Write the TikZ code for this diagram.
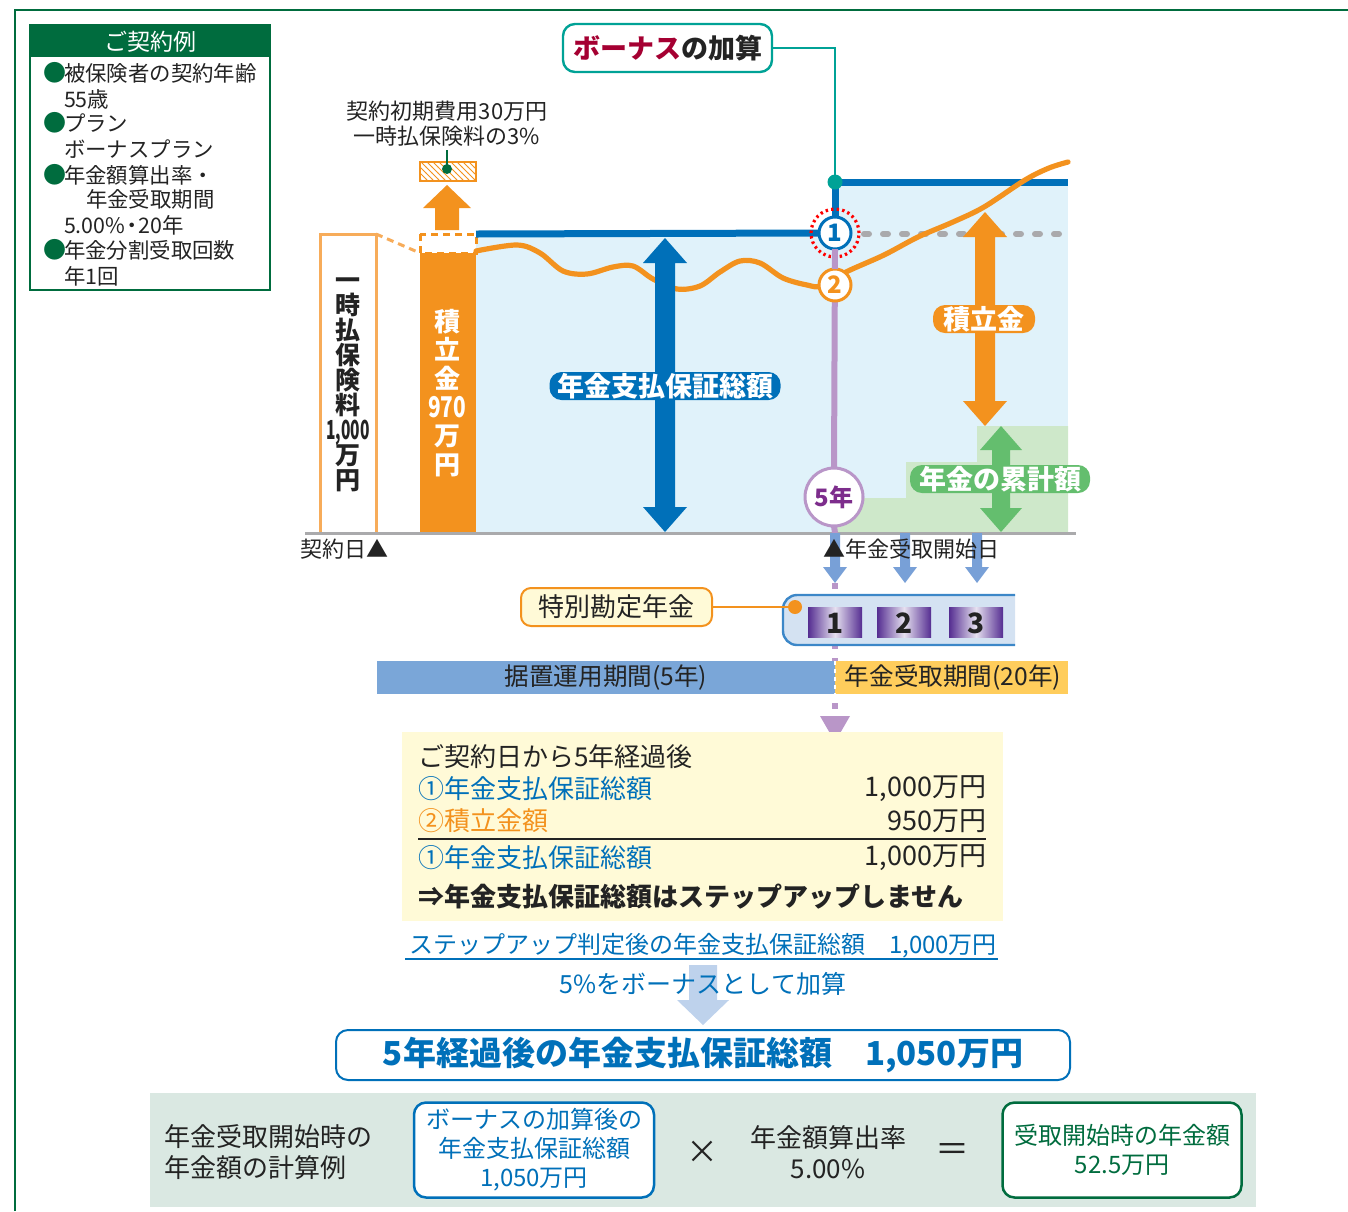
\documentclass[tikz,border=0pt]{standalone}
\usepackage{fontspec}
\usepackage{graphicx}
\setmainfont{Noto Sans CJK JP}
\usetikzlibrary{patterns}
\definecolor{cframe}{RGB}{0,108,62}
\definecolor{cblue}{RGB}{0,112,185}
\definecolor{clblue}{RGB}{224,242,250}
\definecolor{corange}{RGB}{243,146,30}
\definecolor{clorange}{RGB}{247,172,90}
\definecolor{cteal}{RGB}{0,162,150}
\definecolor{cbred}{RGB}{165,0,50}
\definecolor{cplight}{RGB}{185,150,200}
\definecolor{cpdark}{RGB}{125,45,140}
\definecolor{clgreen}{RGB}{206,232,202}
\definecolor{cgreen}{RGB}{100,190,110}
\definecolor{carrow}{RGB}{120,160,215}
\definecolor{ccontfill}{RGB}{212,226,242}
\definecolor{ccontline}{RGB}{60,135,200}
\definecolor{cpdeep}{RGB}{85,45,145}
\definecolor{cpwhite}{RGB}{230,225,240}
\definecolor{cbarblue}{RGB}{122,166,216}
\definecolor{cbaryel}{RGB}{255,205,92}
\definecolor{clyellow}{RGB}{255,250,215}
\definecolor{cpale}{RGB}{190,210,236}
\definecolor{cpanel}{RGB}{218,232,226}
\definecolor{cgray}{RGB}{170,170,172}
\definecolor{ctext}{RGB}{35,35,35}
\newcommand\jfs[1]{\fontsize{#1}{#1}\selectfont}
\newcommand\jfsb[2]{\fontsize{#1}{#2}\selectfont\lineskiplimit=-20pt}
\begin{document}
\begin{tikzpicture}[x=0.5pt,y=-0.5pt,
  every node/.style={inner sep=0pt,outer sep=0pt,text=ctext},
  extxt/.style={anchor=west,font=\jfs{10.7}},
  exbul/.style={anchor=west,font=\jfs{11.5},text=cframe},
  chartlbl/.style={rounded corners=6pt,text=white,font=\bfseries\jfs{13.5},minimum height=14pt},
  yb/.style={anchor=west,font=\jfs{13}},
  ybr/.style={anchor=east,font=\jfs{13.5}},
  numbox/.style={font=\bfseries\jfs{14},text=ctext},
  downarrow/.style={fill=carrow},
  circ/.style={circle,fill=white,line width=1.5pt,minimum size=16pt,font=\bfseries\jfs{12}}
]
\useasboundingbox (0,0) rectangle (1348,1211);
% outer frame
\draw[cframe,line width=0.8pt] (15,1211) -- (15,10) -- (1348,10);

% example box
\fill[cframe] (30,25) rectangle (270,57);
\draw[cframe,line width=0.8pt] (30,25) rectangle (270,290);
\node[text=white,font=\jfs{11.5}] (exhead) at (150,42) {ご契約例};
\node[exbul] (b1) at (43,73) {●};
\node[extxt] (e1) at (64,73) {被保険者の契約年齢};
\node[extxt] (e2) at (64,99) {55歳};
\node[exbul] (b2) at (43,123) {●};
\node[extxt] (e3) at (64,123) {プラン};
\node[extxt] (e4) at (64,149) {ボーナスプラン};
\node[exbul] (b3) at (43,175) {●};
\node[extxt] (e5) at (64,175) {年金額算出率・};
\node[extxt] (e6) at (86,199) {年金受取期間};
\node[extxt] (e7) at (64,225) {5.00\%{\fontsize{10.7}{10.7}\selectfont\hspace{-2pt}・\hspace{-2pt}}20年};
\node[exbul] (b4) at (43,250) {●};
\node[extxt] (e8) at (64,250) {年金分割受取回数};
\node[extxt] (e9) at (64,276) {年1回};

% chart areas
\fill[clblue] (476,234) rectangle (835,533);
\fill[clblue] (835,179) rectangle (1068,533);
\fill[clgreen] (835,533) -- (835,498) -- (906,498) -- (906,462) -- (977,462) -- (977,426) -- (1068,426) -- (1068,533) -- cycle;

% left premium box
\draw[clorange,line width=1.5pt,fill=white] (320,234) rectangle (376,533);
\node[align=center,font={\bfseries\jfsb{12.5}{12.5}}] (premium) at (348,385)
  {一\\時\\払\\保\\険\\料\\\scalebox{0.62}[1.05]{1,000}\\万\\円};
% orange bar
\fill[corange] (420,253) rectangle (476,533);
\node[align=center,text=white,font={\bfseries\jfsb{13}{14.3}}] (reserve) at (447,393)
  {\color{white}積\\\color{white}立\\\color{white}金\\\color{white}\scalebox{0.8}[1.1]{970}\\\color{white}万\\\color{white}円};
\draw[corange,line width=1.5pt,dash pattern=on 3.5pt off 2.5pt] (420,234) rectangle (476,253);
\draw[clorange,line width=1.5pt,dash pattern=on 3.5pt off 2.5pt] (376,234) -- (420,253);
% up arrow
\fill[corange] (435,230) -- (435,208) -- (423,208) -- (447,185) -- (471,208) -- (459,208) -- (459,230) -- cycle;
\draw[corange,line width=0.8pt,pattern=north west lines,pattern color=corange] (420,162) rectangle (476,181);
\node[font=\jfs{11}] (fee1) at (447,111) {契約初期費用30万円};
\node[font=\jfs{11}] (fee2) at (447,136) {一時払保険料の3\%};
\node[circle,fill=cframe,minimum size=5pt] (feedot) at (447,169) {};
\draw[cframe,line width=0.8pt] (447,150) -- (feedot.center);

% baseline
\draw[cgray,line width=1.5pt] (305,533) -- (1076,533);

% blue guarantee lines
\node[circ,draw=cblue,text=cblue] (c1) at (835,233) {1};
\draw[cblue,line width=3.5pt] (476,234) -- (c1.west);
\draw[cblue,line width=3.5pt] (c1.north) -- (835,182) -- (1068,182);
\draw[cgray,line width=3pt,line cap=round,dash pattern=on 2.5pt off 7pt] (864,234) -- (1068,234);

% purple vertical
\node[circle,fill=white,draw=cplight,line width=1.5pt,minimum size=29pt,font=\bfseries\jfs{12},text=cpdark] (y5) at (834,497) {5年};
\draw[cplight,line width=3pt] (c1.south) -- (y5.north);
\draw[cplight,line width=3pt] (y5.south) -- (835,533);

% orange curve
\draw[corange,line width=2.6pt,line cap=round] plot[smooth,tension=0.55] coordinates
 {(476,251) (517,245) (540,253) (563,271) (587,274) (613,267) (633,266) (653,279) (677,289) (700,286) (720,272) (740,261) (760,263) (783,278) (807,285) (822,286) (846,272) (884,255) (918,237) (953,222) (984,207) (1025,180) (1049,168) (1068,162)};

% teal bonus connector
\node[draw=cteal,line width=1.2pt,rounded corners=6pt,fill=white,minimum width=104.5pt,minimum height=24pt,font=\bfseries\jfs{13.5}] (bonus) at (667.5,48) {\textcolor{cbred}{ボーナス}の加算};
\node[circle,fill=cteal,minimum size=7.5pt] (tealdot) at (835,182) {};
\draw[cteal,line width=1.2pt] (bonus.east) -- (835,48) -- (tealdot.center);

% block arrows
\fill[cblue] (655,263) -- (643,263) -- (665,238) -- (687,263) -- (675,263) -- (675,507) -- (687,507) -- (665,532) -- (643,507) -- (655,507) -- cycle;
\fill[corange] (975,237) -- (963,237) -- (985,212) -- (1007,237) -- (995,237) -- (995,401) -- (1007,401) -- (985,426) -- (963,401) -- (975,401) -- cycle;
\fill[cgreen] (992,450) -- (980,450) -- (1001,426) -- (1022,450) -- (1010,450) -- (1010,508) -- (1022,508) -- (1001,532) -- (980,508) -- (992,508) -- cycle;

% chart labels
\node[chartlbl,fill=cblue,minimum width=115.5pt] (lblguar) at (665,386) {\color{white}年金支払保証総額};
\node[chartlbl,fill=corange,minimum width=51pt] (lblres) at (984,319) {\color{white}積立金};
\node[chartlbl,fill=cgreen,minimum width=90pt] (lblsum) at (1000,479) {\color{white}年金の累計額};

% circles
\node[circle,draw=red,line width=1.6pt,dash pattern=on 1.2pt off 1.6pt,minimum size=24pt] (c1ring) at (835,233) {};
\node[circ,draw=corange,text=corange] (c2) at (835,285) {2};
\draw[cplight,line width=3pt] (c1.south) -- (c2.north);

% purple dotted line to summary
\draw[cplight,line width=3pt,dash pattern=on 3pt off 4.5pt] (835,583) -- (835,716);
\fill[cplight] (820,716) -- (850,716) -- (835,742) -- cycle;

% small down arrows
\foreach \xx in {835,905,977}{
  \fill[downarrow] (\xx-5,533) -- (\xx-5,567) -- (\xx-12,567) -- (\xx,583) -- (\xx+12,567) -- (\xx+5,567) -- (\xx+5,533) -- cycle;
}

% baseline labels
\node[anchor=east,font=\jfs{11}] (contract) at (388,549) {契約日▲};
\node[anchor=west,font=\jfs{11}] (start) at (823,549) {▲年金受取開始日};

% special account
\fill[ccontfill] (1015,595) [rounded corners=7pt] -- (783,595) -- (783,645) [sharp corners] -- (1015,645) -- cycle;
\draw[ccontline,line width=1.2pt] (1015,595) [rounded corners=7pt] -- (783,595) -- (783,645) [sharp corners] -- (1015,645);
\shade[left color=cpdeep,right color=cpdeep,middle color=cpwhite] (808,607) rectangle (862,637);
\shade[left color=cpdeep,right color=cpdeep,middle color=cpwhite] (877,607) rectangle (931,637);
\shade[left color=cpdeep,right color=cpdeep,middle color=cpwhite] (949,607) rectangle (1003,637);
\node[numbox] (n1) at (835,623) {1};
\node[numbox] (n2) at (904,623) {2};
\node[numbox] (n3) at (976,623) {3};
\node[draw=corange,line width=1pt,fill=clyellow,rounded corners=5pt,minimum width=95.5pt,minimum height=19pt,font=\jfs{13}] (tok) at (616.5,607) {特別勘定年金};
\node[circle,fill=corange,minimum size=7pt] (tokdot) at (795,607) {};
\draw[corange,line width=1pt] (tok.east) -- (tokdot.center);

% period bars
\fill[cbarblue] (377,661) rectangle (835,694);
\fill[cbaryel] (835,661) rectangle (1068,694);
\draw[white,line width=1pt,dash pattern=on 2pt off 2pt] (835,661) -- (835,694);
\node[font=\jfs{12.3}] (defer) at (606,678) {据置運用期間(5年)};
\node[font=\jfs{12.3}] (recv) at (953,678) {年金受取期間(20年)};

% summary box
\fill[clyellow] (402,732) rectangle (1003,921);
\node[yb] (s1) at (418,757) {ご契約日から5年経過後};
\node[yb,text=cblue] (s2) at (418,789) {①年金支払保証総額};
\node[ybr] (s2v) at (986,789) {1,000万円};
\node[yb,text=corange] (s3) at (418,821) {②積立金額};
\node[ybr] (s3v) at (986,821) {950万円};
\draw[ctext,line width=0.6pt] (418,839) -- (986,839);
\node[yb,text=cblue] (s4) at (418,858) {①年金支払保証総額};
\node[ybr] (s4v) at (986,858) {1,000万円};
\node[yb,font=\bfseries\jfs{13}] (s5) at (418,897) {⇒年金支払保証総額はステップアップしません};

\node[font=\jfs{12},text=cblue] (step) at (703,946) {ステップアップ判定後の年金支払保証総額　1,000万円};
\draw[cblue,line width=0.6pt] (405,959) -- (998,959);
\fill[cpale] (689,965) -- (717,965) -- (717,1000) -- (729,1000) -- (703,1025) -- (677,1000) -- (689,1000) -- cycle;
\node[font=\jfs{12.5},text=cblue] (plus) at (703,984) {5\%をボーナスとして加算};
\node[draw=cblue,line width=1pt,fill=white,rounded corners=6pt,minimum width=367pt,minimum height=25pt,font=\bfseries\jfs{16.5},text=cblue] (result) at (703,1055) {5年経過後の年金支払保証総額　1,050万円};

% bottom panel
\fill[cpanel] (150,1093) rectangle (1256,1207);
\node[anchor=west,align=left,font=\jfsb{13}{15.5}] (calc) at (164,1152) {年金受取開始時の\\年金額の計算例};
\node[draw=cblue,line width=1.25pt,fill=white,rounded corners=6pt,minimum width=120pt,minimum height=47.5pt,align=center,font=\jfsb{12}{14.5},text=cblue] (bbox) at (534,1150) {ボーナスの加算後の\\年金支払保証総額\\1,050万円};
\node[font=\jfs{16}] (times) at (702,1152) {×};
\node[align=center,font=\jfsb{13}{15.5}] (rate) at (828,1152) {年金額算出率\\5.00\%};
\node[font=\jfs{17}] (eq) at (952,1152) {＝};
\node[draw=cframe,line width=1.25pt,fill=white,rounded corners=6pt,minimum width=119.5pt,minimum height=47.5pt,align=center,font=\jfsb{12}{14.5},text=cframe] (gbox) at (1122,1150) {受取開始時の年金額\\52.5万円};
\end{tikzpicture}
\end{document}
